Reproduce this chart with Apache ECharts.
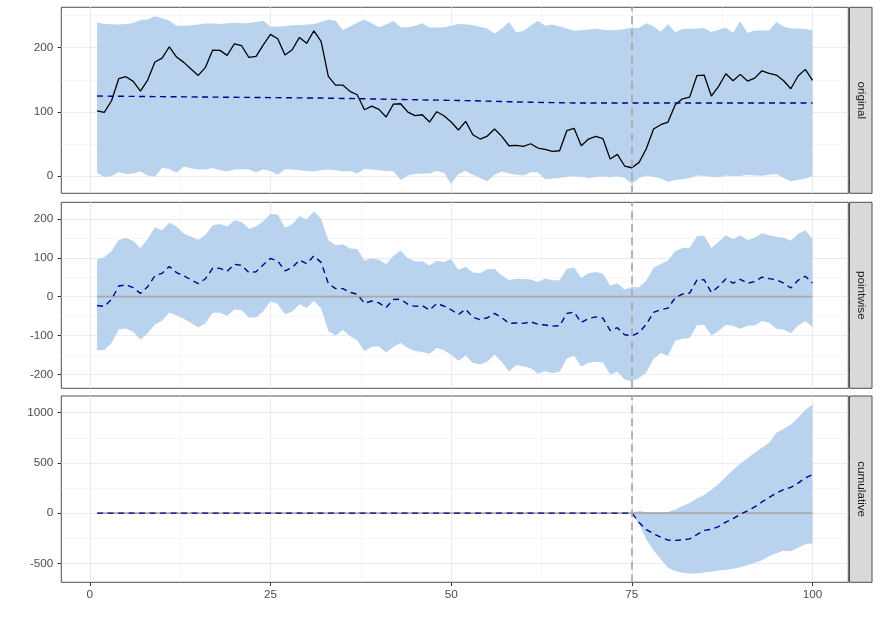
<!DOCTYPE html>
<html><head><meta charset="utf-8">
<script src="https://cdn.jsdelivr.net/npm/echarts@6/dist/echarts.min.js"></script>
<style>html,body{margin:0;padding:0;background:#fff}#c{width:880px;height:628px}</style>
</head><body><div id="c"></div>
<script>
// ---------- data ----------
const timeIndex = [1,2,3,4,5,6,7,8,9,10,11,12,13,14,15,16,17,18,19,20,21,22,23,24,25,26,27,28,29,30,31,32,33,34,35,36,37,38,39,40,41,42,43,44,45,46,47,48,49,50,51,52,53,54,55,56,57,58,59,60,61,62,63,64,65,66,67,68,69,70,71,72,73,74,75,76,77,78,79,80,81,82,83,84,85,86,87,88,89,90,91,92,93,94,95,96,97,98,99,100];
const actual = [101.7,99.2,117.3,151.6,154.7,147.5,132.4,149.5,177.6,183.8,201.4,185.4,177.1,166.7,156.8,169.3,196.3,195.8,188,206.1,203,184.9,186.4,204.5,220.7,213.9,188.5,196.7,216,206.7,226.3,209.8,155.3,141.7,141.7,131.9,126.7,103.3,109,103.9,91.9,112.1,112.6,99.7,94,95.5,84.1,100.2,94,84.1,71.7,85.2,64.3,57.6,62.3,73.2,61.8,47.2,47.8,46.3,50.3,43.6,41.6,38.5,39.4,70.6,74.3,47.2,57.6,61.8,58.2,26.5,33.8,15.6,12.9,21.3,42.5,73.2,80,84.1,111.1,120.4,123,156.3,157.3,124.6,139.7,159.4,148.4,158.4,148,152.6,164,160,157.3,148.4,136,155.8,166.2,149];
const predicted = [124.6,124.5,124.4,124.3,124.2,124.1,124.0,123.9,123.8,123.7,123.6,123.5,123.4,123.3,123.2,123.1,123.0,122.9,122.8,122.7,122.6,122.5,122.4,122.3,122.2,122.1,122.0,121.9,121.8,121.7,121.6,121.5,121.3,121.1,120.9,120.7,120.5,120.3,120.1,119.9,119.7,119.5,119.3,119.1,118.9,118.7,118.5,118.3,118.1,117.9,117.7,117.5,117.3,117.0,116.7,116.4,116.1,115.8,115.5,115.2,115.0,114.8,114.6,114.4,114.2,114.0,113.9,113.8,113.7,113.7,113.7,113.7,113.7,113.7,113.7,113.7,113.7,113.7,113.7,113.7,113.7,113.7,113.7,113.7,113.7,113.7,113.7,113.7,113.7,113.7,113.7,113.7,113.7,113.7,113.7,113.7,113.7,113.7,113.7,113.7];
const predUpper = [239.4,236.8,236.5,236.2,236.8,238.5,243,244,249,246,242,234,234,234.5,236,237.5,237.5,237,238,239,238,238.5,240,242,232.6,233,233.5,235,235.5,236,237,240,244,242,227.4,233,239,244,238,232,236,242,232,231.6,234,238,231.6,231.6,232,234,236.8,236.5,235,232.6,230,222,230,240,224,226,234,242,234,236,233,230,226.3,227,228.5,229.5,228,227,227.5,229,231,231,238,233,225,237,224,229,229.5,230,230.5,224.5,228,231.6,223,241,223,226.6,226.6,227,240,233,230,230,229,227];
const predLower = [5,-2,0,6,3,4,7,1,-1,13,11,5,15,12,10,10,12.5,9,7,10,10.4,10,6,10,8,2,11,10,9,8,7,9,10,9,7,8,4,11,10,9,8,7.5,-6,1,3,4,4,8,5,-12,3,8,2,-3,-8,2,7,4,2,1,6,6,-5,-4,-3,-1,-0.5,-1,-3,-2,-0.5,-2,-0.5,-3,-12,-3,1,-1,-4,-9,-6,-5,-3,1,0,-1,-2,1,0,0,2,1,0.5,2,3,-3,-8,-6,-4,0];
// cumulative effect, post period (time 75..100)
const cumIndex = [75,76,77,78,79,80,81,82,83,84,85,86,87,88,89,90,91,92,93,94,95,96,97,98,99,100];
const cumMean  = [0,-93,-165,-205,-239,-269,-272,-266,-257,-215,-172,-161,-135,-90,-56,-12,22,61,111,157,200,234,256,298,350,385];
const cumUpper = [0,20,8,5,5,12,35,70,100,145,180,230,290,360,430,495,545,600,650,700,800,840,880,950,1030,1080];
const cumLower = [0,-110,-260,-370,-460,-545,-580,-595,-603,-600,-592,-585,-572,-565,-555,-540,-520,-495,-470,-430,-400,-375,-380,-345,-310,-300];
const interventionTime = 75;
const panelNames = ['original','pointwise','cumulative'];
const xTicks = [0,25,50,75,100];
const xMinor = [12.5,37.5,62.5,87.5];
const yTicks1 = [0,100,200],  yMinor1 = [50,150,250];
const yTicks2 = [-200,-100,0,100,200], yMinor2 = [-150,-50,50,150];
const yTicks3 = [-500,0,500,1000], yMinor3 = [-250,250,750];

// derived pointwise effect (actual - prediction)
const effMean = actual.map((v,i)=>v-predicted[i]);
const effLower = actual.map((v,i)=>v-predUpper[i]);
const effUpper = actual.map((v,i)=>v-predLower[i]);
const cumFullMean = timeIndex.map(t => t < cumIndex[0] ? 0 : cumMean[t-cumIndex[0]]);

// ---------- layout ----------
const FONT = "'Liberation Sans', Arial, Helvetica, sans-serif";
const L = 61.3, W = 787;
const panels = [
  {top:7.3, height:186, min:-26.9, max:262.9, ticks:yTicks1, minor:yMinor1},
  {top:202.3, height:186, min:-236, max:243, ticks:yTicks2, minor:yMinor2},
  {top:396, height:186.3, min:-689, max:1166, ticks:yTicks3, minor:yMinor3}
];
const BAND = '#B9D3EE', NAVY = '#00008B', GREY = '#A9A9A9';

const grids = [], xAxes = [], yAxes = [], series = [], graphics = [];
panels.forEach((p, k) => {
  grids.push({left:L, top:p.top, width:W, height:p.height, show:true, borderColor:'#4d4d4d', borderWidth:1, backgroundColor:'transparent', containLabel:false, outerBoundsMode:'none'});
  const isBottom = k === 2;
  xAxes.push({type:'value', gridIndex:k, position:'bottom', min:-3.95, max:104.95,
    axisLine:{show:false, onZero:false}, splitLine:{show:false},
    axisTick:{show:isBottom, customValues:xTicks, length:3.7, lineStyle:{color:'#333', width:1}},
    axisLabel:{show:isBottom, customValues:xTicks, margin:6, color:'#4D4D4D', fontSize:11.7, fontFamily:FONT, formatter:v=>String(v)}
  });
  yAxes.push({type:'value', gridIndex:k, position:'left', min:p.min, max:p.max,
    axisLine:{show:false, onZero:false}, splitLine:{show:false},
    axisTick:{show:true, customValues:p.ticks, length:3.7, lineStyle:{color:'#333', width:1}},
    axisLabel:{show:true, customValues:p.ticks, margin:8, color:'#4D4D4D', fontSize:11.7, fontFamily:FONT, formatter:v=>String(v)}
  });
  // grid lines (drawn beneath everything)
  const gl = [];
  xTicks.forEach(v=>gl.push({xAxis:v, lineStyle:{color:'#EBEBEB', width:1.1, type:'solid'}}));
  xMinor.forEach(v=>gl.push({xAxis:v, lineStyle:{color:'#F0F0F0', width:0.6, type:'solid'}}));
  p.ticks.forEach(v=>gl.push({yAxis:v, lineStyle:{color:'#EBEBEB', width:1.1, type:'solid'}}));
  p.minor.forEach(v=>gl.push({yAxis:v, lineStyle:{color:'#F0F0F0', width:0.6, type:'solid'}}));
  series.push({type:'line', xAxisIndex:k, yAxisIndex:k, data:[], z:0, silent:true,
    markLine:{z:0, silent:true, symbol:['none','none'], label:{show:false}, animation:false, data:gl}});
  // strip
  graphics.push({type:'rect', shape:{x:849.5, y:p.top, width:22.5, height:p.height}, style:{fill:'#D9D9D9', stroke:'#4d4d4d', lineWidth:1}});
  graphics.push({type:'text', x:860.8, y:p.top + p.height/2, rotation:-Math.PI/2,
    style:{text:panelNames[k], fill:'#1A1A1A', font:'11.7px ' + FONT, align:'center', verticalAlign:'middle'}});
});

function band(k, xs, lo, hi) {
  return {type:'custom', xAxisIndex:k, yAxisIndex:k, z:2, silent:true,
    data: xs.map((x,i)=>[x, lo[i], hi[i]]), encode:{x:0, y:[1,2]},
    renderItem: function(params, api) {
      if (params.dataIndex !== 0) return null;
      const pts = [];
      for (let i=0;i<xs.length;i++) pts.push(api.coord([xs[i], hi[i]]));
      for (let i=xs.length-1;i>=0;i--) pts.push(api.coord([xs[i], lo[i]]));
      return {type:'polygon', shape:{points:pts}, style:{fill:BAND}};
    }};
}
function line(k, xs, ys, color, dashed, z, width) {
  return {type:'line', xAxisIndex:k, yAxisIndex:k, z:z, silent:true, showSymbol:false, symbol:'none',
    data: xs.map((x,i)=>[x, ys[i]]),
    lineStyle:{color:color, width:width||1.4, type: dashed ? [6,4.5] : 'solid', cap:'butt'}};
}
function vline(k) {
  return {type:'line', xAxisIndex:k, yAxisIndex:k, data:[], z:6, silent:true,
    markLine:{z:6, silent:true, symbol:['none','none'], label:{show:false}, animation:false,
      data:[{xAxis:interventionTime, lineStyle:{color:GREY, width:1.7, type:[8,5]}}]}};
}
// panel 1: original
series.push(band(0, timeIndex, predLower, predUpper));
series.push(line(0, timeIndex, actual, '#000000', false, 3, 1.3));
series.push(line(0, timeIndex, predicted, NAVY, true, 4));
series.push(vline(0));
// panel 2: pointwise
series.push(band(1, timeIndex, effLower, effUpper));
series.push(line(1, [timeIndex[0], timeIndex[timeIndex.length-1]], [0,0], GREY, false, 3, 1.8));
series.push(line(1, timeIndex, effMean, NAVY, true, 4));
series.push(vline(1));
// panel 3: cumulative
series.push(band(2, cumIndex, cumLower, cumUpper));
series.push(line(2, [timeIndex[0], timeIndex[timeIndex.length-1]], [0,0], GREY, false, 3, 1.8));
series.push(line(2, timeIndex, cumFullMean, NAVY, true, 4));
series.push(vline(2));

const chart = echarts.init(document.getElementById('c'), null, {renderer:'canvas'});
chart.setOption({animation:false, backgroundColor:'#ffffff', grid:grids, xAxis:xAxes, yAxis:yAxes, series:series, graphic:graphics});
</script>
</body></html>
